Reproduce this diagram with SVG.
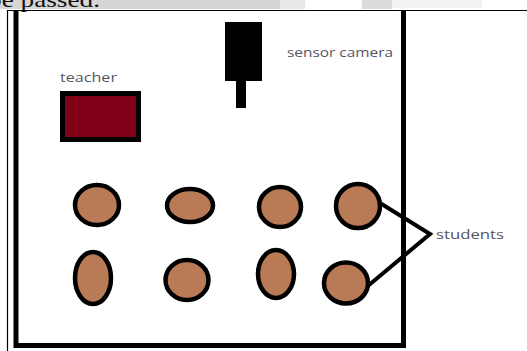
<svg xmlns="http://www.w3.org/2000/svg" width="527" height="351" viewBox="0 0 527 351">
<style>
.lbl{font-family:"Open Sans","Liberation Sans",sans-serif;font-size:12px;fill:#55555f}
.stu{fill:#b97a56;stroke:#000;stroke-width:4.5}
.conn{stroke:#000;stroke-width:4;fill:none;stroke-linecap:round}
</style>
<rect width="527" height="351" fill="#fff"/>
<g id="header">
<rect x="0" y="0" width="280" height="9" fill="#d6d6d6"/>
<rect x="280" y="0" width="25" height="9" fill="#e8e8e8"/>
<rect x="362" y="0" width="30" height="9" fill="#dcdcdc"/>
<rect x="392" y="0" width="90" height="8" fill="#f3f3f3"/>
<text x="-12" y="7" font-family="Liberation Serif,serif" font-size="22" fill="#111" textLength="112" lengthAdjust="spacingAndGlyphs">be passed.</text>
</g>
<g id="frame">
<line x1="7" y1="10.5" x2="527" y2="10.5" stroke="#000" stroke-width="1.2"/>
<line x1="7.5" y1="10" x2="7.5" y2="351" stroke="#000" stroke-width="1.2"/>
<path d="M16 11 V345.5 H403.5 V11" fill="none" stroke="#000" stroke-width="5"/>
</g>
<g id="camera">
<rect x="225" y="22" width="37" height="59" fill="#000"/>
<rect x="236" y="80" width="10" height="28" fill="#000"/>
<text class="lbl" x="287" y="57" textLength="106" lengthAdjust="spacingAndGlyphs">sensor camera</text>
</g>
<g id="teacher">
<text class="lbl" x="60" y="82" textLength="57" lengthAdjust="spacingAndGlyphs">teacher</text>
<rect x="62.5" y="93.5" width="76" height="46" fill="#800018" stroke="#000" stroke-width="5"/>
</g>
<g id="students">
<ellipse class="stu" cx="97" cy="205" rx="22" ry="20"/>
<ellipse class="stu" cx="190" cy="205.5" rx="23" ry="16.5"/>
<ellipse class="stu" cx="280" cy="207" rx="21" ry="20"/>
<ellipse class="stu" cx="358" cy="206" rx="22" ry="22"/>
<ellipse class="stu" cx="93" cy="278" rx="18" ry="26"/>
<ellipse class="stu" cx="187" cy="280" rx="21.5" ry="20"/>
<ellipse class="stu" cx="276" cy="274" rx="18" ry="24"/>
<ellipse class="stu" cx="346" cy="283" rx="22" ry="20.5"/>
<text class="lbl" x="436" y="239" textLength="68" lengthAdjust="spacingAndGlyphs">students</text>
</g>
<g id="connectors">
<polyline class="conn" points="380,203 430,234 369,285"/>
</g>
</svg>
